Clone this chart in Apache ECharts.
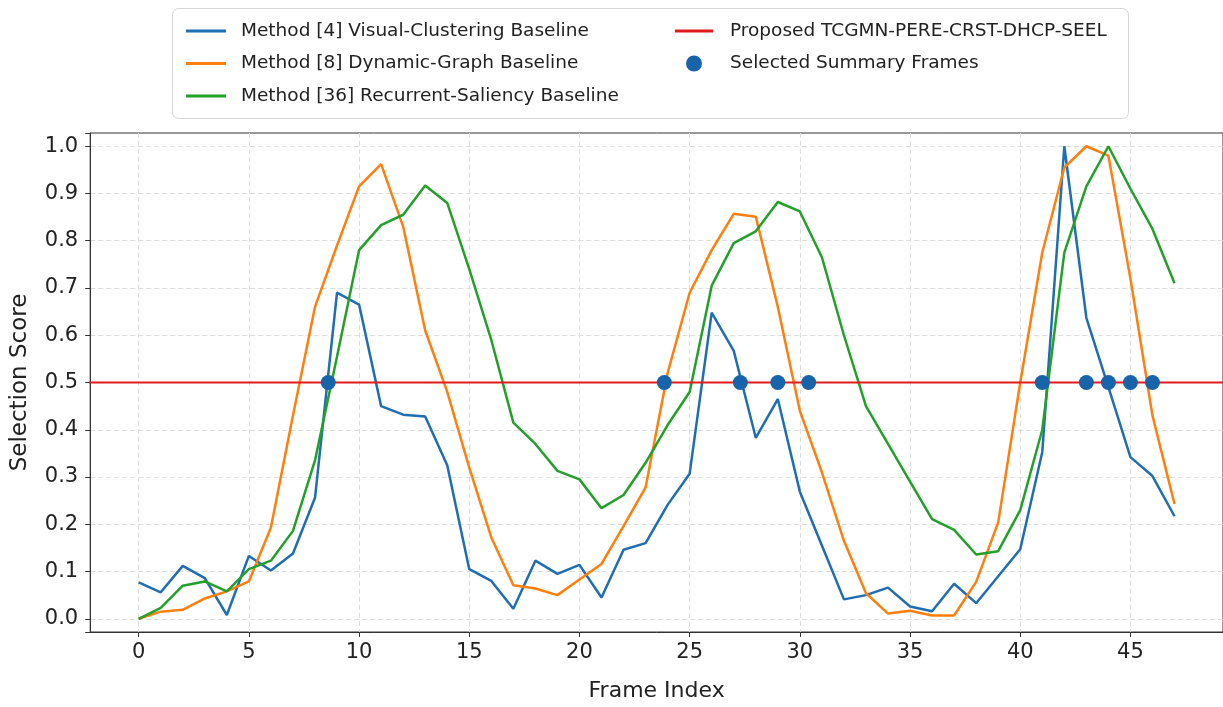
<!DOCTYPE html>
<html><head><meta charset="utf-8">
<script src="https://cdn.jsdelivr.net/npm/echarts@6/dist/echarts.min.js"></script>
<style>html,body{margin:0;padding:0;background:#fff}#c{width:1223px;height:707px}</style>
</head><body><div id="c"></div>
<script>
// ---- data ----
const frames = [0,1,2,3,4,5,6,7,8,9,10,11,12,13,14,15,16,17,18,19,20,21,22,23,24,25,26,27,28,29,30,31,32,33,34,35,36,37,38,39,40,41,42,43,44,45,46,47];
const visualClustering = [0.077,0.056,0.112,0.086,0.008,0.133,0.102,0.138,0.256,0.69,0.665,0.45,0.432,0.428,0.325,0.105,0.08,0.021,0.123,0.095,0.114,0.045,0.146,0.16,0.241,0.307,0.648,0.567,0.383,0.465,0.269,0.155,0.041,0.05,0.066,0.026,0.016,0.074,0.033,0.09,0.147,0.353,1.0,0.637,0.49,0.342,0.302,0.217];
const dynamicGraph = [0.0,0.015,0.019,0.043,0.058,0.079,0.193,0.43,0.66,0.79,0.915,0.962,0.83,0.61,0.48,0.32,0.172,0.071,0.064,0.05,0.083,0.116,0.196,0.278,0.52,0.69,0.78,0.857,0.851,0.66,0.44,0.31,0.165,0.054,0.011,0.017,0.007,0.007,0.078,0.204,0.5,0.775,0.955,1.0,0.98,0.72,0.43,0.243];
const recurrentSaliency = [0.0,0.023,0.07,0.079,0.058,0.105,0.123,0.186,0.335,0.555,0.78,0.833,0.855,0.917,0.88,0.74,0.59,0.415,0.37,0.313,0.295,0.234,0.262,0.33,0.41,0.48,0.705,0.795,0.82,0.882,0.862,0.765,0.6,0.45,0.37,0.29,0.211,0.188,0.136,0.143,0.23,0.4,0.775,0.915,1.0,0.91,0.825,0.71];
const proposedX = [-6.5, 52];
const proposedY = [0.5, 0.5];
const selectedFrames = [8.6, 23.85, 27.3, 29.0, 30.4, 41.0, 43.0, 44.0, 45.0, 46.0];
const selectedScores = [0.5, 0.5, 0.5, 0.5, 0.5, 0.5, 0.5, 0.5, 0.5, 0.5];
const xTickLabels = [0, 5, 10, 15, 20, 25, 30, 35, 40, 45];
const yTickLabels = [0.0, 0.1, 0.2, 0.3, 0.4, 0.5, 0.6, 0.7, 0.8, 0.9, 1.0];

const names = [
  'Method [4] Visual-Clustering Baseline',
  'Method [8] Dynamic-Graph Baseline',
  'Method [36] Recurrent-Saliency Baseline',
  'Proposed TCGMN-PERE-CRST-DHCP-SEEL',
  'Selected Summary Frames'
];
const colors = ['#1f6db3', '#ff7f0e', '#22a02a', '#e01b1e', '#1764ab'];
const FONT = 'DejaVu Sans';
const LINE_ICON = 'path://M0,0 L40,0 L40,3 L0,3 Z';

const pair = (xs, ys) => xs.map((x, i) => [x, ys[i]]);

const chart = echarts.init(document.getElementById('c'), null, {renderer: 'canvas'});
const lineSeries = (name, ys, color) => ({
  name, type: 'line', data: pair(frames, ys), symbol: 'none', showSymbol: false,
  lineStyle: {color, width: 2.5}, itemStyle: {color}, z: 3
});
const gridLine = {show: true, showMinLine: false, showMaxLine: false, lineStyle: {color: '#dedede', width: 1, type: [5, 3]}};

chart.setOption({
  animation: false,
  backgroundColor: '#fff',
  textStyle: {fontFamily: FONT},
  graphic: [{
    type: 'rect', left: 172, top: 8, z: 0,
    shape: {width: 956, height: 110, r: 6},
    style: {fill: '#fff', stroke: '#d6d6d6', lineWidth: 1}
  }],
  legend: [{
    left: 186, top: 21, orient: 'vertical', padding: 0, itemGap: 12.5,
    itemWidth: 40, itemHeight: 14,
    data: names.slice(0, 3).map(n => ({name: n, icon: LINE_ICON})),
    textStyle: {fontFamily: FONT, fontSize: 18.5, color: '#222', lineHeight: 20, padding: [0, 0, 0, 10]}
  }, {
    left: 675, top: 21, orient: 'vertical', padding: 0, itemGap: 12.5,
    itemWidth: 38, itemHeight: 16,
    data: [{name: names[3], icon: 'path://M0,0 L38,0 L38,3 L0,3 Z'}, {name: names[4], icon: 'circle'}],
    textStyle: {fontFamily: FONT, fontSize: 18.5, color: '#222', lineHeight: 20, padding: [0, 0, 0, 12]}
  }],
  grid: {left: 90.2, top: 133, bottom: 66, right: -13.5, show: true, borderColor: '#333', borderWidth: 1, backgroundColor: 'transparent'},
  xAxis: {
    type: 'value', min: -2.2, max: 49.2, splitNumber: 10,
    name: 'Frame Index', nameLocation: 'middle', nameGap: 48,
    nameTextStyle: {fontFamily: FONT, fontSize: 22, color: '#222'},
    axisLine: {show: true, onZero: false, lineStyle: {color: '#333', width: 1}},
    axisTick: {show: true, length: 5, lineStyle: {color: '#333'}},
    axisLabel: {
      showMinLabel: false, showMaxLabel: false, margin: 10,
      fontFamily: FONT, fontSize: 21, color: '#222',
      formatter: v => (xTickLabels.some(t => Math.abs(t - v) < 1e-6) ? String(Math.round(v)) : '')
    },
    splitLine: gridLine
  },
  yAxis: [{
    type: 'value', min: -0.028, max: 1.028, splitNumber: 10,
    axisLine: {show: true, onZero: false, lineStyle: {color: '#333', width: 1}},
    axisTick: {show: true, length: 5, lineStyle: {color: '#333'}},
    axisLabel: {show: false},
    splitLine: gridLine
  }, {
    type: 'value', min: -0.028, max: 1.028, splitNumber: 10, position: 'left', z: 6,
    name: 'Selection Score', nameLocation: 'middle', nameGap: 52,
    nameTextStyle: {fontFamily: FONT, fontSize: 23, color: '#222'},
    axisLine: {show: false}, axisTick: {show: false}, splitLine: {show: false},
    axisLabel: {
      showMinLabel: false, showMaxLabel: false, margin: 11,
      fontFamily: FONT, fontSize: 21, color: '#222',
      backgroundColor: '#fff', padding: [0, 1, 0, 2],
      formatter: v => (yTickLabels.some(t => Math.abs(t - v) < 1e-6) ? v.toFixed(1) : '')
    }
  }],
  series: [
    lineSeries(names[0], visualClustering, colors[0]),
    lineSeries(names[1], dynamicGraph, colors[1]),
    lineSeries(names[2], recurrentSaliency, colors[2]),
    {
      name: names[3], type: 'line', data: pair(proposedX, proposedY), symbol: 'none', clip: false,
      lineStyle: {color: colors[3], width: 2}, itemStyle: {color: colors[3]}, z: 4
    },
    {
      name: names[4], type: 'scatter', data: pair(selectedFrames, selectedScores),
      symbol: 'circle', symbolSize: 15, itemStyle: {color: colors[4], opacity: 1}, z: 5
    }
  ]
});
</script>
</body></html>
